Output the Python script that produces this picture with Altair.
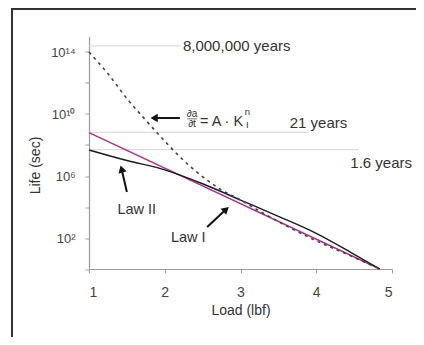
import altair as alt
import pandas as pd

# ---- data (load in lbf, life as power of ten in seconds) ----
law1_load = [1.0, 4.84]
law1_exp = [8.8, 0.0]

law2_load = [1.0, 1.5, 2.0, 2.5, 3.0, 3.5, 4.0, 4.5, 4.84]
law2_exp = [7.68, 7.0, 6.4, 5.5, 4.45, 3.4, 2.3, 0.95, 0.0]

crack_load = [1.0, 1.25, 1.5, 1.75, 2.0, 2.25, 2.5, 2.75, 3.0, 3.3, 3.9, 4.5, 4.84]
crack_exp = [14.0, 12.6, 11.0, 9.6, 8.25, 7.0, 5.95, 5.1, 4.45, 3.6, 2.05, 0.75, 0.0]

ref_labels = ["8,000,000 years", "21 years", "1.6 years"]
ref_exp = [14.4, 8.82, 7.7]
ref_line_end = [2.2, 3.9, 4.56]
ref_text_load = [2.24, 3.65, 4.45]
ref_text_exp = [14.4, 9.42, 6.84]

law_labels = ["Law II", "Law I"]
law_text_load = [1.63, 2.31]
law_text_exp = [3.8, 2.0]

arrow_tail_load = [1.50, 2.56, 2.2]
arrow_tail_exp = [4.97, 2.71, 9.74]
arrow_head_load = [1.43, 2.81, 1.86]
arrow_head_exp = [6.45, 3.85, 9.74]
arrow_tip_angle = [344, 48, 270]

x_ticks = [1, 2, 3, 4, 5]
y_tick_exp = [0, 2, 4, 6, 8, 10, 12, 14]

P = 10.0

def curve(load, exps, name):
    return pd.DataFrame({"load": load, "life": [P ** e for e in exps], "series": name})

df_lines = pd.concat([
    curve(law1_load, law1_exp, "Law I"),
    curve(law2_load, law2_exp, "Law II"),
])
df_crack = curve(crack_load, crack_exp, "crack")

x_scale = alt.Scale(domain=[1, 5], nice=False)
y_scale = alt.Scale(type="log", domain=[1, 1e15], nice=False)

label_expr = ("round(log(datum.value)/LN10) == 2 ? '10²' : "
              "round(log(datum.value)/LN10) == 6 ? '10⁶' : "
              "round(log(datum.value)/LN10) == 10 ? '10¹⁰' : "
              "round(log(datum.value)/LN10) == 14 ? '10¹⁴' : ''")

X = alt.X("load:Q", scale=x_scale,
          axis=alt.Axis(title="Load (lbf)", values=x_ticks, format="d", grid=False,
                        tickSize=4, labelPadding=12, labelFontSize=14,
                        titleX=151.5, titleY=41, titleBaseline="middle",
                        titleFontSize=14, titleFontWeight="normal"))
Y = alt.Y("life:Q", scale=y_scale,
          axis=alt.Axis(title="Life (sec)", values=[P ** e for e in y_tick_exp],
                        labelExpr=label_expr, grid=False, tickSize=4,
                        labelPadding=10, labelFontSize=13,
                        titleAngle=270, titleX=-54, titleY=128.5,
                        titleAlign="center", titleBaseline="middle",
                        titleFontSize=14, titleFontWeight="normal"))

# reference lines
df_ref = pd.DataFrame({"load": [1.0] * 3, "load2": ref_line_end,
                       "life": [P ** e for e in ref_exp]})
ref_lines = alt.Chart(df_ref).mark_rule(color="#dcdcdc", strokeWidth=1.2).encode(
    x=alt.X("load:Q", scale=x_scale), x2="load2:Q", y=alt.Y("life:Q", scale=y_scale))

df_ref_text = pd.DataFrame({"load": ref_text_load, "life": [P ** e for e in ref_text_exp],
                            "label": ref_labels})
ref_text = alt.Chart(df_ref_text).mark_text(align="left", baseline="middle", fontSize=15,
                                            color="#333", font="Liberation Sans").encode(
    x=alt.X("load:Q", scale=x_scale), y=alt.Y("life:Q", scale=y_scale), text="label:N")

lines = alt.Chart(df_lines).mark_line(strokeWidth=1.4, interpolate="monotone").encode(
    x=X, y=Y,
    color=alt.Color("series:N", scale=alt.Scale(domain=["Law I", "Law II"],
                                                range=["#a8318e", "#1a1a1a"]), legend=None))

crack = alt.Chart(df_crack).mark_line(strokeWidth=1.6, strokeDash=[3, 4], color="#444",
                                      interpolate="monotone").encode(
    x=alt.X("load:Q", scale=x_scale), y=alt.Y("life:Q", scale=y_scale))

df_law_text = pd.DataFrame({"load": law_text_load, "life": [P ** e for e in law_text_exp],
                            "label": law_labels})
law_text = alt.Chart(df_law_text).mark_text(align="center", baseline="middle", fontSize=14.5,
                                            color="#333", font="Liberation Sans").encode(
    x=alt.X("load:Q", scale=x_scale), y=alt.Y("life:Q", scale=y_scale), text="label:N")

df_arrows = pd.DataFrame({"load": arrow_tail_load, "life": [P ** e for e in arrow_tail_exp],
                          "load2": arrow_head_load, "life2": [P ** e for e in arrow_head_exp],
                          "angle": arrow_tip_angle})
shafts = alt.Chart(df_arrows).mark_rule(color="#111", strokeWidth=2).encode(
    x=alt.X("load:Q", scale=x_scale), y=alt.Y("life:Q", scale=y_scale),
    x2="load2:Q", y2="life2:Q")
heads = alt.Chart(df_arrows).mark_point(shape="triangle-up", filled=True, size=70,
                                        color="#111", opacity=1).encode(
    x=alt.X("load2:Q", scale=x_scale), y=alt.Y("life2:Q", scale=y_scale),
    angle=alt.Angle("angle:Q", scale=None))

# equation da/dt = A K_I^n
eq_parts = ["∂a", "∂t", "= A · K", "n", "I"]
eq_load = [2.36, 2.36, 2.465, 3.09, 3.09]
eq_exp = [10.0, 9.38, 9.5, 10.1, 9.3]
eq_size = [10, 10, 14.5, 9.5, 9.5]
eq_align = ["center", "center", "left", "center", "center"]
df_eq = pd.DataFrame({"load": eq_load, "life": [P ** e for e in eq_exp], "t": eq_parts,
                      "s": eq_size, "a": eq_align})
eq_center = alt.Chart(df_eq[df_eq.a == "center"]).mark_text(
    baseline="middle", align="center", color="#333", font="Liberation Sans").encode(
    x=alt.X("load:Q", scale=x_scale), y=alt.Y("life:Q", scale=y_scale), text="t:N",
    size=alt.Size("s:Q", scale=None, legend=None))
eq_left = alt.Chart(df_eq[df_eq.a == "left"]).mark_text(
    baseline="middle", align="left", color="#333", font="Liberation Sans").encode(
    x=alt.X("load:Q", scale=x_scale), y=alt.Y("life:Q", scale=y_scale), text="t:N",
    size=alt.Size("s:Q", scale=None, legend=None))
df_bar = pd.DataFrame({"load": [2.295], "load2": [2.43], "life": [P ** 9.69]})
eq_bar = alt.Chart(df_bar).mark_rule(color="#555", strokeWidth=0.8).encode(
    x=alt.X("load:Q", scale=x_scale), x2="load2:Q", y=alt.Y("life:Q", scale=y_scale))

# outer frame of the figure: thin filled bands for its left and top edges
frame_top = alt.Chart(pd.DataFrame({"k": [0]})).mark_rect(color="#333", opacity=1).encode(
    x=alt.value(-78), x2=alt.value(340), y=alt.value(-28.5), y2=alt.value(-26.5))
frame_left = alt.Chart(pd.DataFrame({"k": [0]})).mark_rect(color="#333", opacity=1).encode(
    x=alt.value(-78), x2=alt.value(-76), y=alt.value(-28.5), y2=alt.value(310))

chart = alt.layer(
    ref_lines, ref_text, lines, crack, shafts, heads, law_text,
    eq_center, eq_left, eq_bar, frame_top, frame_left
).properties(
    width=303, height=232.5,
    autosize=alt.AutoSizeParams(type="none"),
    padding={"left": 81, "top": 28.5, "right": 24, "bottom": 68},
).configure_view(stroke=None).configure_axis(
    domainColor="#9a9a9a", tickColor="#9a9a9a", labelColor="#444", titleColor="#333",
    labelFont="Liberation Sans", titleFont="Liberation Sans", domainWidth=1.2
)

chart.save("out.html", embed_options={"renderer": "svg", "actions": False})
